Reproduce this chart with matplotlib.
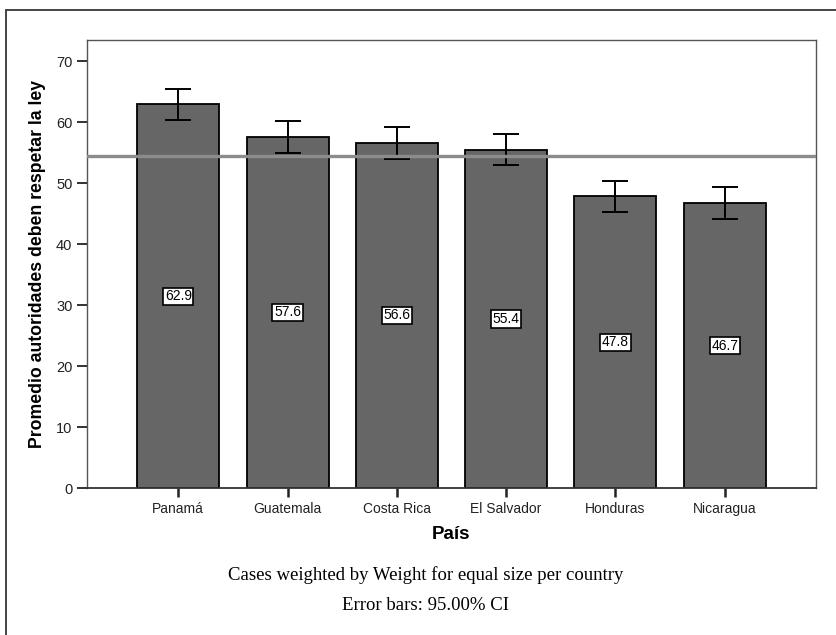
import matplotlib.pyplot as plt
from matplotlib.patches import Rectangle

paises = ['Panamá', 'Guatemala', 'Costa Rica', 'El Salvador', 'Honduras', 'Nicaragua']
promedio = [62.9, 57.6, 56.6, 55.4, 47.8, 46.7]
ci_bajo = [60.4, 55.0, 54.0, 52.9, 45.2, 44.1]
ci_alto = [65.4, 60.2, 59.2, 58.0, 50.4, 49.3]
media_total = 54.5

fig = plt.figure(figsize=(8.37, 6.35), dpi=100)
ax = fig.add_axes([87/837, 147/635, 729/837, 448/635])

x = list(range(len(paises)))
err = [[m - lo for m, lo in zip(promedio, ci_bajo)],
       [hi - m for m, hi in zip(promedio, ci_alto)]]

ax.bar(x, promedio, width=0.75, color='#666666', edgecolor='black', linewidth=1.3, zorder=2)
ax.errorbar(x, promedio, yerr=err, fmt='none', ecolor='black', elinewidth=1.4,
            capsize=9.5, capthick=1.4, zorder=3)
ax.axhline(media_total, color='#8c8c8c', linewidth=2.4, zorder=4)

for xi, v in zip(x, promedio):
    ax.text(xi, v / 2, f'{v:.1f}', ha='center', va='center', fontsize=10,
            family='Liberation Sans', zorder=5,
            bbox=dict(boxstyle='square,pad=0.12', facecolor='white', edgecolor='black', linewidth=1.2))

ax.set_xlim(-0.835, 5.835)
ax.set_ylim(0, 73.45)
ax.set_yticks(range(0, 80, 10))
ax.set_xticks(x)
ax.set_xticklabels(paises, family='Liberation Sans', fontsize=10)
for lab in ax.get_yticklabels():
    lab.set_family('Liberation Sans')
    lab.set_fontsize(10.5)
ax.tick_params(axis='y', length=7.5, width=1.3, pad=3, colors='#222222')
ax.tick_params(axis='x', length=6.5, width=1.8, pad=3.5, colors='#222222')

for s in ['top', 'left', 'right']:
    ax.spines[s].set_color('#555555')
    ax.spines[s].set_linewidth(1.0)
ax.spines['bottom'].set_color('#333333')
ax.spines['bottom'].set_linewidth(1.3)

ax.set_ylabel('Promedio autoridades deben respetar la ley', family='Liberation Sans',
              fontsize=12.7, fontweight='bold', labelpad=7)
ax.set_xlabel('País', family='Liberation Sans', fontsize=13.5, fontweight='bold', labelpad=7)

fig.text(0.508, 1 - 575/635, 'Cases weighted by Weight for equal size per country',
         family='Liberation Serif', fontsize=13.5, ha='center', va='center')
fig.text(0.508, 1 - 605/635, 'Error bars: 95.00% CI',
         family='Liberation Serif', fontsize=13.5, ha='center', va='center')

# outer frame (only top and left edges are visible in the reference)
fig.add_artist(Rectangle((6/837, -0.05), 1.1, (625/635) + 0.05, transform=fig.transFigure,
                         fill=False, edgecolor='#444444', linewidth=1.4))

fig.savefig('out.png', dpi=100)
